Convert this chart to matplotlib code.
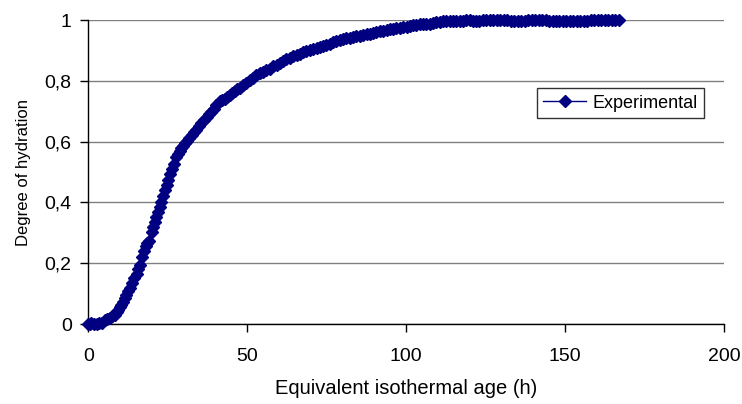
import matplotlib
matplotlib.use('Agg')
import matplotlib.pyplot as plt
from matplotlib.ticker import FuncFormatter

# equivalent isothermal age (h)
age_h = [0.0, 0.5, 1.0, 1.8, 2.6, 3.4, 4.2, 5.2, 6.0, 6.8, 7.5, 8.3, 8.9, 9.4, 10.0,
         10.4, 11.0, 11.5, 12.0, 12.5, 13.1, 13.8, 14.5, 15.2, 15.7, 16.2, 17.0, 17.5,
         18.1, 18.6, 19.1, 19.9, 20.4, 20.9, 21.4, 21.9, 22.5, 23.0, 23.6, 24.1, 24.6,
         25.1, 25.6, 26.2, 26.9, 27.7, 28.3, 28.8, 29.3, 29.8, 30.4, 30.9, 31.7, 32.5,
         33.2, 34.0, 34.8, 35.6, 36.4, 37.2, 38.0, 38.7, 39.5, 40.3, 41.4, 42.1, 42.9,
         43.7, 44.5, 45.3, 46.1, 46.8, 47.6, 48.6, 49.7, 50.8, 51.8, 52.9, 53.9, 55.0,
         56.0, 57.1, 58.1, 59.2, 60.2, 61.3, 62.3, 63.4, 64.4, 65.5, 66.5, 67.6, 68.6,
         69.7, 70.7, 71.8, 72.8, 73.8, 74.9, 75.9, 77.0, 78.0, 79.1, 80.1, 81.2, 82.2,
         83.3, 84.3, 85.4, 86.4, 87.5, 88.5, 89.6, 90.6, 91.7, 92.7, 93.8, 94.8, 95.9,
         96.9, 98.0, 99.0, 100.1, 101.1, 102.2, 103.2, 104.2, 105.3, 106.3, 107.4, 108.4,
         109.5, 110.5, 111.6, 112.6, 113.7, 114.7, 115.8, 116.8, 117.9, 118.9, 119.9,
         121.0, 122.0, 123.0, 124.0, 125.1, 126.2, 127.3, 128.4, 129.5, 130.6, 131.7,
         132.8, 133.9, 135.0, 136.1, 137.2, 138.3, 139.4, 140.5, 141.6, 142.7, 143.8,
         144.9, 146.0, 147.1, 148.2, 149.3, 150.4, 151.5, 152.6, 153.7, 154.8, 155.9,
         157.0, 158.1, 159.2, 160.3, 161.4, 162.5, 163.6, 164.7, 165.8, 166.9]

# degree of hydration
hydration = [0.000, 0.001, 0.002, 0.000, 0.000, 0.002, 0.004, 0.012, 0.016, 0.020, 0.025,
             0.031, 0.040, 0.047, 0.055, 0.063, 0.074, 0.085, 0.097, 0.108, 0.120, 0.136,
             0.150, 0.165, 0.180, 0.195, 0.222, 0.240, 0.256, 0.265, 0.273, 0.303, 0.320,
             0.337, 0.352, 0.369, 0.386, 0.402, 0.420, 0.440, 0.457, 0.475, 0.493, 0.510,
             0.528, 0.550, 0.561, 0.571, 0.579, 0.587, 0.595, 0.603, 0.613, 0.622, 0.631,
             0.640, 0.651, 0.662, 0.672, 0.682, 0.690, 0.698, 0.709, 0.720, 0.733, 0.736,
             0.740, 0.747, 0.753, 0.760, 0.767, 0.773, 0.778, 0.786, 0.794, 0.803, 0.810,
             0.818, 0.825, 0.830, 0.836, 0.841, 0.848, 0.854, 0.860, 0.866, 0.871, 0.877,
             0.881, 0.886, 0.890, 0.894, 0.898, 0.901, 0.905, 0.909, 0.912, 0.916, 0.920,
             0.923, 0.927, 0.930, 0.934, 0.937, 0.940, 0.942, 0.945, 0.948, 0.947, 0.951,
             0.954, 0.956, 0.959, 0.962, 0.964, 0.966, 0.968, 0.970, 0.972, 0.973, 0.975,
             0.977, 0.979, 0.981, 0.983, 0.985, 0.986, 0.987, 0.988, 0.989, 0.991, 0.993,
             0.995, 0.996, 0.997, 0.998, 0.998, 0.998, 0.998, 0.999, 1.000, 1.000, 0.999,
             0.998, 0.999, 1.000, 1.000, 1.001, 1.001, 1.000, 1.000, 1.001, 1.000, 0.999,
             0.997, 0.997, 0.998, 0.999, 1.000, 1.001, 1.001, 1.001, 1.000, 1.001, 0.999,
             0.997, 0.996, 0.996, 0.996, 0.996, 0.996, 0.996, 0.996, 0.997, 0.997, 0.999,
             1.001, 1.001, 1.001, 1.001, 1.001, 1.001, 1.001, 1.001, 1.001]

x_ticks = [0, 50, 100, 150, 200]
y_ticks = [0, 0.2, 0.4, 0.6, 0.8, 1.0]

plt.rcParams['font.family'] = ['Liberation Sans', 'DejaVu Sans']

fig = plt.figure(figsize=(7.42, 4.04), dpi=100)
ax = fig.add_axes([0.119, 0.198, 0.857, 0.752])

ax.plot(age_h, hydration, color='#000080', lw=1, marker='D', ms=6,
        mec='#000080', mfc='#000080', label='Experimental', clip_on=False, zorder=3)

ax.set_xlim(0, 200)
ax.set_ylim(0, 1)
ax.set_xticks(x_ticks)
ax.set_yticks(y_ticks)
ax.yaxis.set_major_formatter(FuncFormatter(lambda v, p: f'{v:g}'.replace('.', ',')))
ax.grid(axis='y', color='#808080', lw=1)
ax.set_axisbelow(True)

for s in ['top', 'right']:
    ax.spines[s].set_visible(False)
for s in ['left', 'bottom']:
    ax.spines[s].set_color('#000000')
    ax.spines[s].set_linewidth(1)
ax.tick_params(direction='out', length=6, width=1, color='#000000', labelsize=14)
ax.tick_params(axis='x', pad=11)
ax.tick_params(axis='y', pad=6)

ax.set_xlabel('Equivalent isothermal age (h)', fontsize=14.5, labelpad=10)
ax.set_ylabel('Degree of hydration', fontsize=12, labelpad=10)

leg = ax.legend(loc='upper left', bbox_to_anchor=(0.705, 0.776), fontsize=13,
                frameon=True, fancybox=False, borderpad=0.35, handlelength=2.4,
                handletextpad=0.35, borderaxespad=0)
leg.get_frame().set_edgecolor('#000000')
leg.get_frame().set_linewidth(1)

fig.savefig('out.png', dpi=100)
